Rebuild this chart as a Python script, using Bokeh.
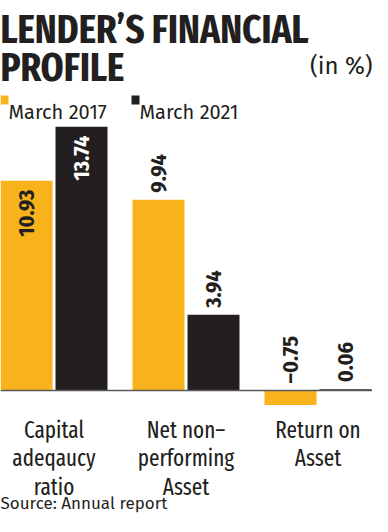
from bokeh.plotting import figure
from bokeh.models import ColumnDataSource, Label, Span, Range1d
from bokeh.core.properties import value
from bokeh.embed import file_html
from bokeh.resources import INLINE

# ---- data ----
categories = ["Capital\nadeqaucy\nratio", "Net non–\nperforming\nAsset", "Return on\nAsset"]
series_names = ["March 2017", "March 2021"]
march_2017 = [10.93, 9.94, -0.75]
march_2021 = [13.74, 3.94, 0.06]
label_inside_2017 = [True, False, False]
label_inside_2021 = [True, False, False]

# ---- style ----
ORANGE = "#F7B21C"
DARK = "#231F20"
TITLE_FONT = "Fira Sans Extra Condensed"
BODY_FONT = "Fira Sans"
W, H = 372, 514
PX_PER_GROUP = 132.0
PX_PER_UNIT = 19.2
BASE_Y = 390.0        # canvas pixel of zero line
FIRST_CENTER = 53.5   # canvas pixel of first group centre

x0 = -FIRST_CENTER / PX_PER_GROUP
x1 = x0 + W / PX_PER_GROUP
y1 = BASE_Y / PX_PER_UNIT
y0 = y1 - H / PX_PER_UNIT

def px2x(px):
    return x0 + px / PX_PER_GROUP

def px2y(py):
    return y1 - py / PX_PER_UNIT

p = figure(width=W, height=H, output_backend="svg", toolbar_location=None,
           x_range=Range1d(x0, x1), y_range=Range1d(y0, y1), min_border=0)
p.axis.visible = False
p.grid.visible = False
p.outline_line_color = None
p.background_fill_color = "white"
p.border_fill_color = "white"

bar_w = 52 / PX_PER_GROUP
dodge = 27.5 / PX_PER_GROUP
xs = list(range(len(categories)))

p.add_layout(Span(location=0, dimension="width", line_color="#5a5a5a", line_width=1.5))

for vals, color, inside, sgn in [(march_2017, ORANGE, label_inside_2017, -1),
                                 (march_2021, DARK, label_inside_2021, 1)]:
    bx = [x + sgn * dodge for x in xs]
    src = ColumnDataSource(dict(x=bx, top=vals))
    p.vbar(x="x", top="top", bottom=0, width=bar_w, source=src,
           fill_color=color, line_color=None)
    ly, al, col = [], [], []
    for v, ins in zip(vals, inside):
        if ins:
            ly.append(v - 9 / PX_PER_UNIT)
            al.append("right")
            col.append(DARK if color == ORANGE else "white")
        else:
            ly.append(max(v, 0) + 7 / PX_PER_UNIT)
            al.append("left")
            col.append(DARK)
    lsrc = ColumnDataSource(dict(x=bx, y=ly, t=[f"{v:.2f}".replace("-", "–") for v in vals],
                                 a=al, c=col))
    p.text(x="x", y="y", text="t", source=lsrc, angle=1.5708,
           text_align="a", text_baseline="middle", text_color="c",
           text_font=value("Fira Sans Condensed"), text_font_style="bold",
           text_font_size="22px")

# title
p.add_layout(Label(x=px2x(0), y=px2y(29), text="LENDER’S FINANCIAL", text_font=TITLE_FONT,
                   text_font_style="bold", text_font_size="40px", text_color=DARK,
                   text_baseline="alphabetic"))
p.add_layout(Label(x=px2x(0), y=px2y(67), text="PROFILE", text_font=TITLE_FONT,
                   text_font_style="bold", text_font_size="40px", text_color=DARK,
                   text_baseline="alphabetic"))
p.add_layout(Label(x=px2x(372), y=px2y(65), text="(in %)", text_font=BODY_FONT,
                   text_font_size="24px", text_color=DARK, text_align="right",
                   text_baseline="alphabetic"))

# legend
for i, (name, color) in enumerate(zip(series_names, [ORANGE, DARK])):
    lx = i * 131
    p.rect(x=[px2x(lx + 4)], y=[px2y(99.5)], width=8 / PX_PER_GROUP,
           height=9 / PX_PER_UNIT, fill_color=color, line_color=None)
    p.add_layout(Label(x=px2x(lx + 8), y=px2y(111), text=name, text_font=BODY_FONT,
                       text_font_size="20px", text_color=DARK, text_baseline="alphabetic"))

# category labels
for i, cat in enumerate(categories):
    for j, line in enumerate(cat.split("\n")):
        p.add_layout(Label(x=xs[i], y=px2y(429 + 28.5 * j), text=line, text_font=TITLE_FONT,
                           text_font_size="23px", text_color=DARK, text_align="center",
                           text_baseline="alphabetic"))

p.add_layout(Label(x=px2x(0), y=px2y(503), text="Source: Annual report", text_font=BODY_FONT,
                   text_font_size="17px", text_color=DARK, text_baseline="alphabetic"))

open("out.html", "w").write(file_html(p, INLINE))
